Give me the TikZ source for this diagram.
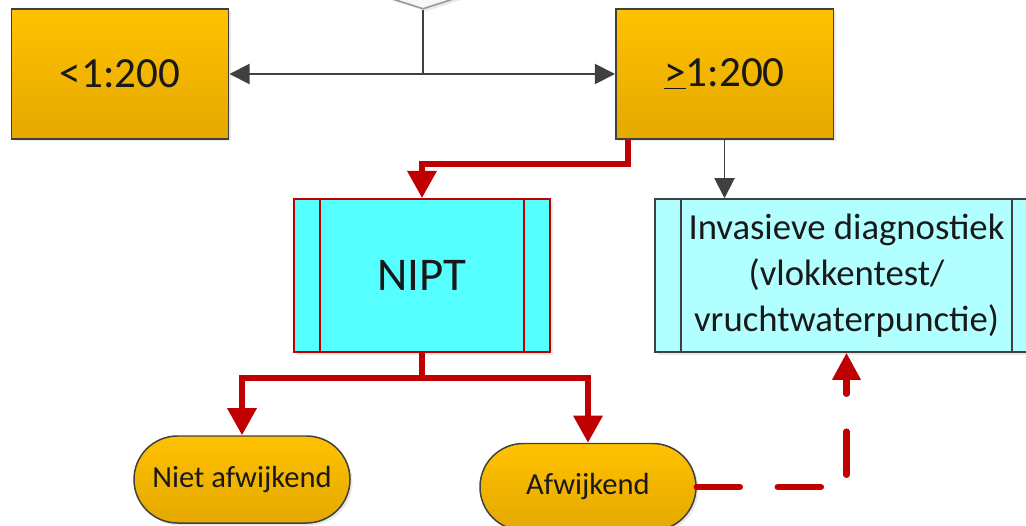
\documentclass[tikz,border=0pt]{standalone}
\usepackage{fontspec}
\setmainfont{Carlito}
\usetikzlibrary{arrows.meta,shapes.geometric,shadows}

\definecolor{oranjeboven}{RGB}{255,194,0}
\definecolor{oranjeonder}{RGB}{228,168,0}
\definecolor{cyaan}{RGB}{85,255,255}
\definecolor{lichtcyaan}{RGB}{178,255,255}
\definecolor{donkerrood}{RGB}{192,0,0}
\definecolor{lijngrijs}{RGB}{64,64,64}
\definecolor{ruitgrijs}{RGB}{150,150,150}

\tikzset{
  schaduw/.style={drop shadow={shadow xshift=0.05cm, shadow yshift=-0.05cm, opacity=0.18}},
  risico/.style={draw=lijngrijs, line width=0.85pt, top color=oranjeboven, bottom color=oranjeonder,
    minimum width=4.35cm, minimum height=2.6cm, font=\fontsize{24.5}{28}\selectfont, schaduw},
  proces/.style={draw=#1, minimum height=3.06cm, align=center, schaduw,
    path picture={\draw[#1] ([xshift=0.52cm]path picture bounding box.north west) -- ([xshift=0.52cm]path picture bounding box.south west)
      ([xshift=-0.52cm]path picture bounding box.north east) -- ([xshift=-0.52cm]path picture bounding box.south east);}},
  uitslag/.style={draw=lijngrijs, line width=0.85pt, top color=oranjeboven, bottom color=oranjeonder, rounded corners=0.87cm,
    minimum width=4.32cm, minimum height=1.74cm, font=\fontsize{17.4}{20}\selectfont, schaduw},
  grijzepijl/.style={draw=lijngrijs, line width=1.1pt, -{Triangle[length=11.4pt, width=11.4pt]}},
  rodepijl/.style={draw=donkerrood, line width=3.4pt, -{Triangle[length=15.4pt, width=16pt]}},
  stippelpijl/.style={draw=donkerrood, line width=3.7pt, line cap=round, dash pattern=on 24.5pt off 21.6pt,
    -{Triangle[length=15.4pt, width=15.4pt]}},
}

\begin{document}
\begin{tikzpicture}[text=black!90]
	\useasboundingbox (0,0) rectangle (20.52,10.5);
	\clip (0,0) rectangle (20.52,10.5);
	\node[diamond, draw=ruitgrijs, fill=gray!6, line width=0.85pt, minimum width=6cm, minimum height=1.92cm, inner sep=0pt, schaduw] (keuze) at (8.46,11.28) {};
	\node[risico] (laag) at (2.40,9.02) {<1:200};
	\node[risico] (hoog) at (14.49,9.02) {\underline{>}1:200};
	\node[proces=donkerrood, line width=1.1pt, fill=cyaan, minimum width=5.12cm, font=\fontsize{26.7}{30}\selectfont] (nipt) at (8.44,4.99) {NIPT};
	\node[proces=lijngrijs, line width=0.85pt, fill=lichtcyaan, minimum width=7.66cm, font=\fontsize{20.9}{26.2}\selectfont] (invasief) at (16.93,4.99) {Invasieve diagnostiek\\(vlokkentest/\\vruchtwaterpunctie)};
	\node[uitslag] (niet) at (4.84,0.91) {Niet afwijkend};
	\node[uitslag] (afw) at (11.76,0.76) {Afwijkend};
	\coordinate (splits) at (keuze.south |- laag.east);
	\draw[draw=lijngrijs, line width=1.1pt] (keuze.south) -- (splits);
	\draw[grijzepijl] (splits) -- (laag);
	\draw[grijzepijl] (splits) -- (hoog);
	\draw[grijzepijl] (hoog.south) -- (hoog.south |- invasief.north);
	\draw[rodepijl] ([xshift=0.26cm]hoog.south west) -- ++(0,-0.48) -| (nipt.north);
	\draw[rodepijl] (nipt.south) -- ++(0,-0.5) -| (niet.north);
	\draw[rodepijl] (nipt.south) -- ++(0,-0.5) -| (afw.north);
	\draw[stippelpijl] (afw.east) -| (invasief.south);
\end{tikzpicture}
\end{document}
